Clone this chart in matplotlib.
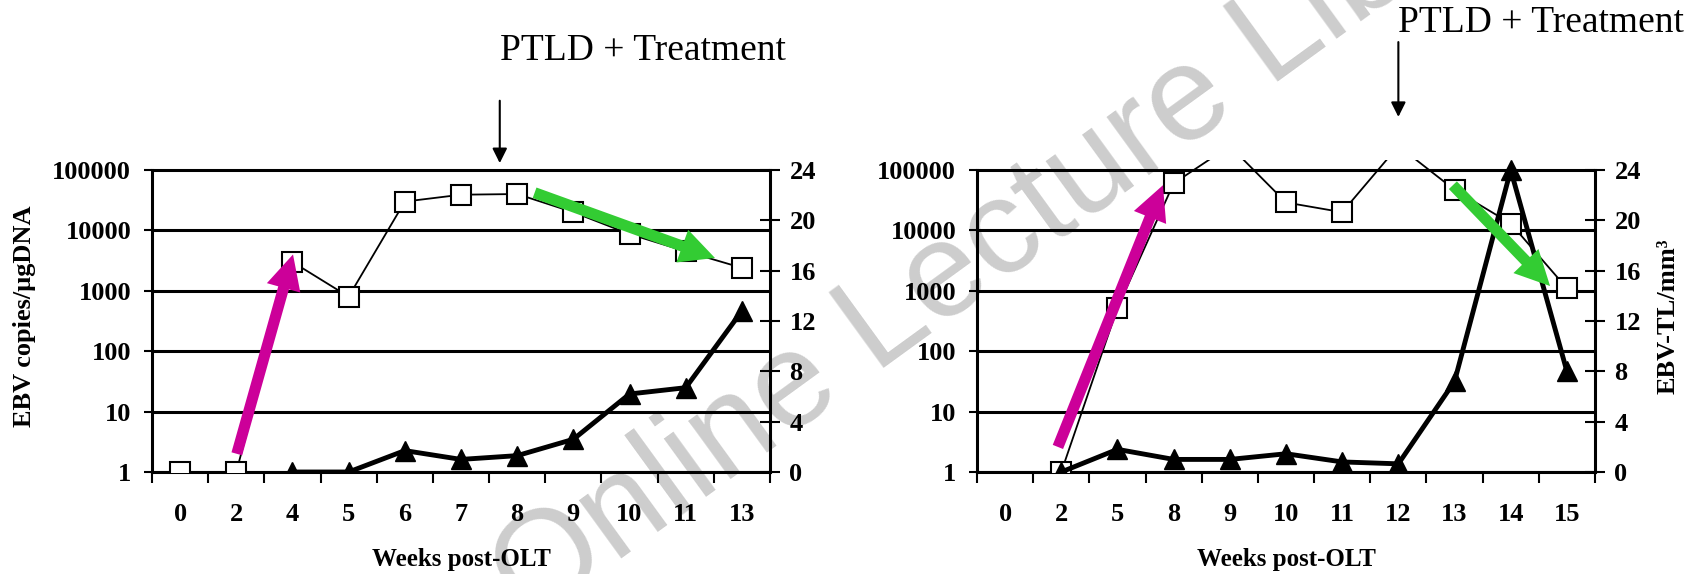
import numpy as np
import matplotlib
matplotlib.use('Agg')
import matplotlib.pyplot as plt
from matplotlib.ticker import NullLocator, FixedLocator

plt.rcParams['font.family'] = ['Liberation Serif', 'DejaVu Serif']

# left patient
weeks_left = ['0', '2', '4', '5', '6', '7', '8', '9', '10', '11', '13']
ebv_left = [1, 1, 3000, 800, 30000, 39000, 40000, 20000, 8700, 4500, 2400]
tl_left = [np.nan, np.nan, 0, 0, 1.7, 1.0, 1.3, 2.6, 6.2, 6.7, 12.8]

# right patient
weeks_right = ['0', '2', '5', '8', '9', '10', '11', '12', '13', '14', '15']
ebv_right = [np.nan, 1, 520, 60000, 250000, 29000, 20000, 250000, 47000, 13000, 1100]
tl_right = [np.nan, 0, 1.8, 1.0, 1.0, 1.45, 0.8, 0.65, 7.2, 24, 8.0]

log_ticks = [1, 10, 100, 1000, 10000, 100000]
tl_ticks = [0, 4, 8, 12, 16, 20, 24]

W, H = 1705, 574
fig = plt.figure(figsize=(W / 100, H / 100), dpi=100)

# axes box runs a little above the 100000 line so the curves are cut there
extra = 312 / 302.0
tick_font = dict(fontsize=19, fontweight='bold')


def panel(left_px, weeks, ebv, tl, right_label):
    ax = fig.add_axes([left_px / W, 1 - 472 / H, 618 / W, 312 / H])
    ax2 = ax.twinx()
    x = np.arange(len(weeks))

    ax.set_yscale('log')
    ax.set_ylim(1, 10 ** (5 * extra))
    ax.set_xlim(-0.5, len(weeks) - 0.5)
    ax2.set_ylim(0, 24 * extra)

    ax.plot(x, ebv, color='black', lw=1.3, marker='s', ms=15,
            mfc='white', mec='black', mew=1.5, zorder=3)
    ax2.plot(x, tl, color='black', lw=3.5, marker='^', ms=15, zorder=3)

    # y axis left
    ax.yaxis.set_major_locator(FixedLocator(log_ticks))
    ax.yaxis.set_minor_locator(NullLocator())
    ax.set_yticklabels([str(v) for v in log_ticks], **tick_font)
    ax.grid(axis='y', which='major', color='black', lw=2.2)
    ax.tick_params(axis='y', direction='out', length=6, width=1.5, pad=9)

    # x axis: labels in the middle, marks on the borders
    ax.set_xticks(x)
    ax.set_xticklabels(weeks, **tick_font)
    ax.set_xticks(np.arange(-0.5, len(weeks)), minor=True)
    ax.tick_params(axis='x', which='major', length=0, pad=22)
    ax.tick_params(axis='x', which='minor', direction='out', length=8, width=1.5)
    ax.set_xlabel('Weeks post-OLT', fontsize=18, fontweight='bold')
    ax.xaxis.set_label_coords(0.5, -0.245)

    # y axis right
    ax2.set_yticks(tl_ticks)
    ax2.set_yticklabels([str(v) for v in tl_ticks], **tick_font)
    ax2.tick_params(axis='y', direction='inout', length=14, width=1.5, pad=7)

    for s in ['top', 'right']:
        ax.spines[s].set_visible(False)
    for s in ['top', 'left', 'bottom']:
        ax2.spines[s].set_visible(False)
    ax.spines['left'].set_bounds(1, 100000)
    ax2.spines['right'].set_bounds(0, 24)
    for sp in [ax.spines['left'], ax.spines['bottom'], ax2.spines['right']]:
        sp.set_linewidth(2.2)

    if right_label:
        ax2.set_ylabel('EBV-TL/mm\u00b3', fontsize=19, fontweight='bold')
        ax2.yaxis.set_label_coords(1.100, 0.5)
    else:
        ax.set_ylabel('EBV copies/\u03bcgDNA', fontsize=19, fontweight='bold')
        ax.yaxis.set_label_coords(-0.188, 0.5)
    return ax, ax2


def big_arrow(ax2, ax, start, end, color):
    ax2.annotate('', xy=end, xycoords=ax.transData, xytext=start,
                 textcoords=ax.transData,
                 arrowprops=dict(arrowstyle='simple,head_length=1.25,head_width=1.25,tail_width=0.4',
                                 mutation_scale=20, color=color, lw=0,
                                 shrinkA=0, shrinkB=0), zorder=5)


def ptld(ax, xpos, tip, tail, text_y):
    ax.annotate('', xy=(xpos, tip), xycoords=('data', 'axes fraction'),
                xytext=(xpos, tail), textcoords=('data', 'axes fraction'),
                arrowprops=dict(arrowstyle='-|>', color='black', lw=1.5,
                                mutation_scale=22, shrinkA=0, shrinkB=0),
                annotation_clip=False)
    ax.annotate('PTLD + Treatment', xy=(xpos, text_y),
                xycoords=('data', 'axes fraction'), ha='left', va='center',
                fontsize=27, annotation_clip=False)


axL, axL2 = panel(152, weeks_left, ebv_left, tl_left, False)
axR, axR2 = panel(977, weeks_right, ebv_right, tl_right, True)

ptld(axL, 5.69, 0.99, 1.19, 1.35)
ptld(axR, 7.0, 1.138, 1.378, 1.44)

magenta = '#cc0099'
green = '#33cc33'
big_arrow(axL2, axL, (1.01, 2), (2.01, 4000), magenta)
big_arrow(axL2, axL, (6.31, 42000), (9.52, 3500), green)
big_arrow(axR2, axR, (0.94, 2.6), (2.81, 56000), magenta)
big_arrow(axR2, axR, (7.97, 56000), (9.7, 1200), green)

# watermark
fig.text(530 / W, 1 - 625 / H, 'Online Lecture Library', fontsize=97,
         family='Liberation Sans', color='black', alpha=0.2, rotation=36,
         rotation_mode='anchor', ha='left', va='baseline', zorder=10)

fig.savefig('out.png', dpi=100)
